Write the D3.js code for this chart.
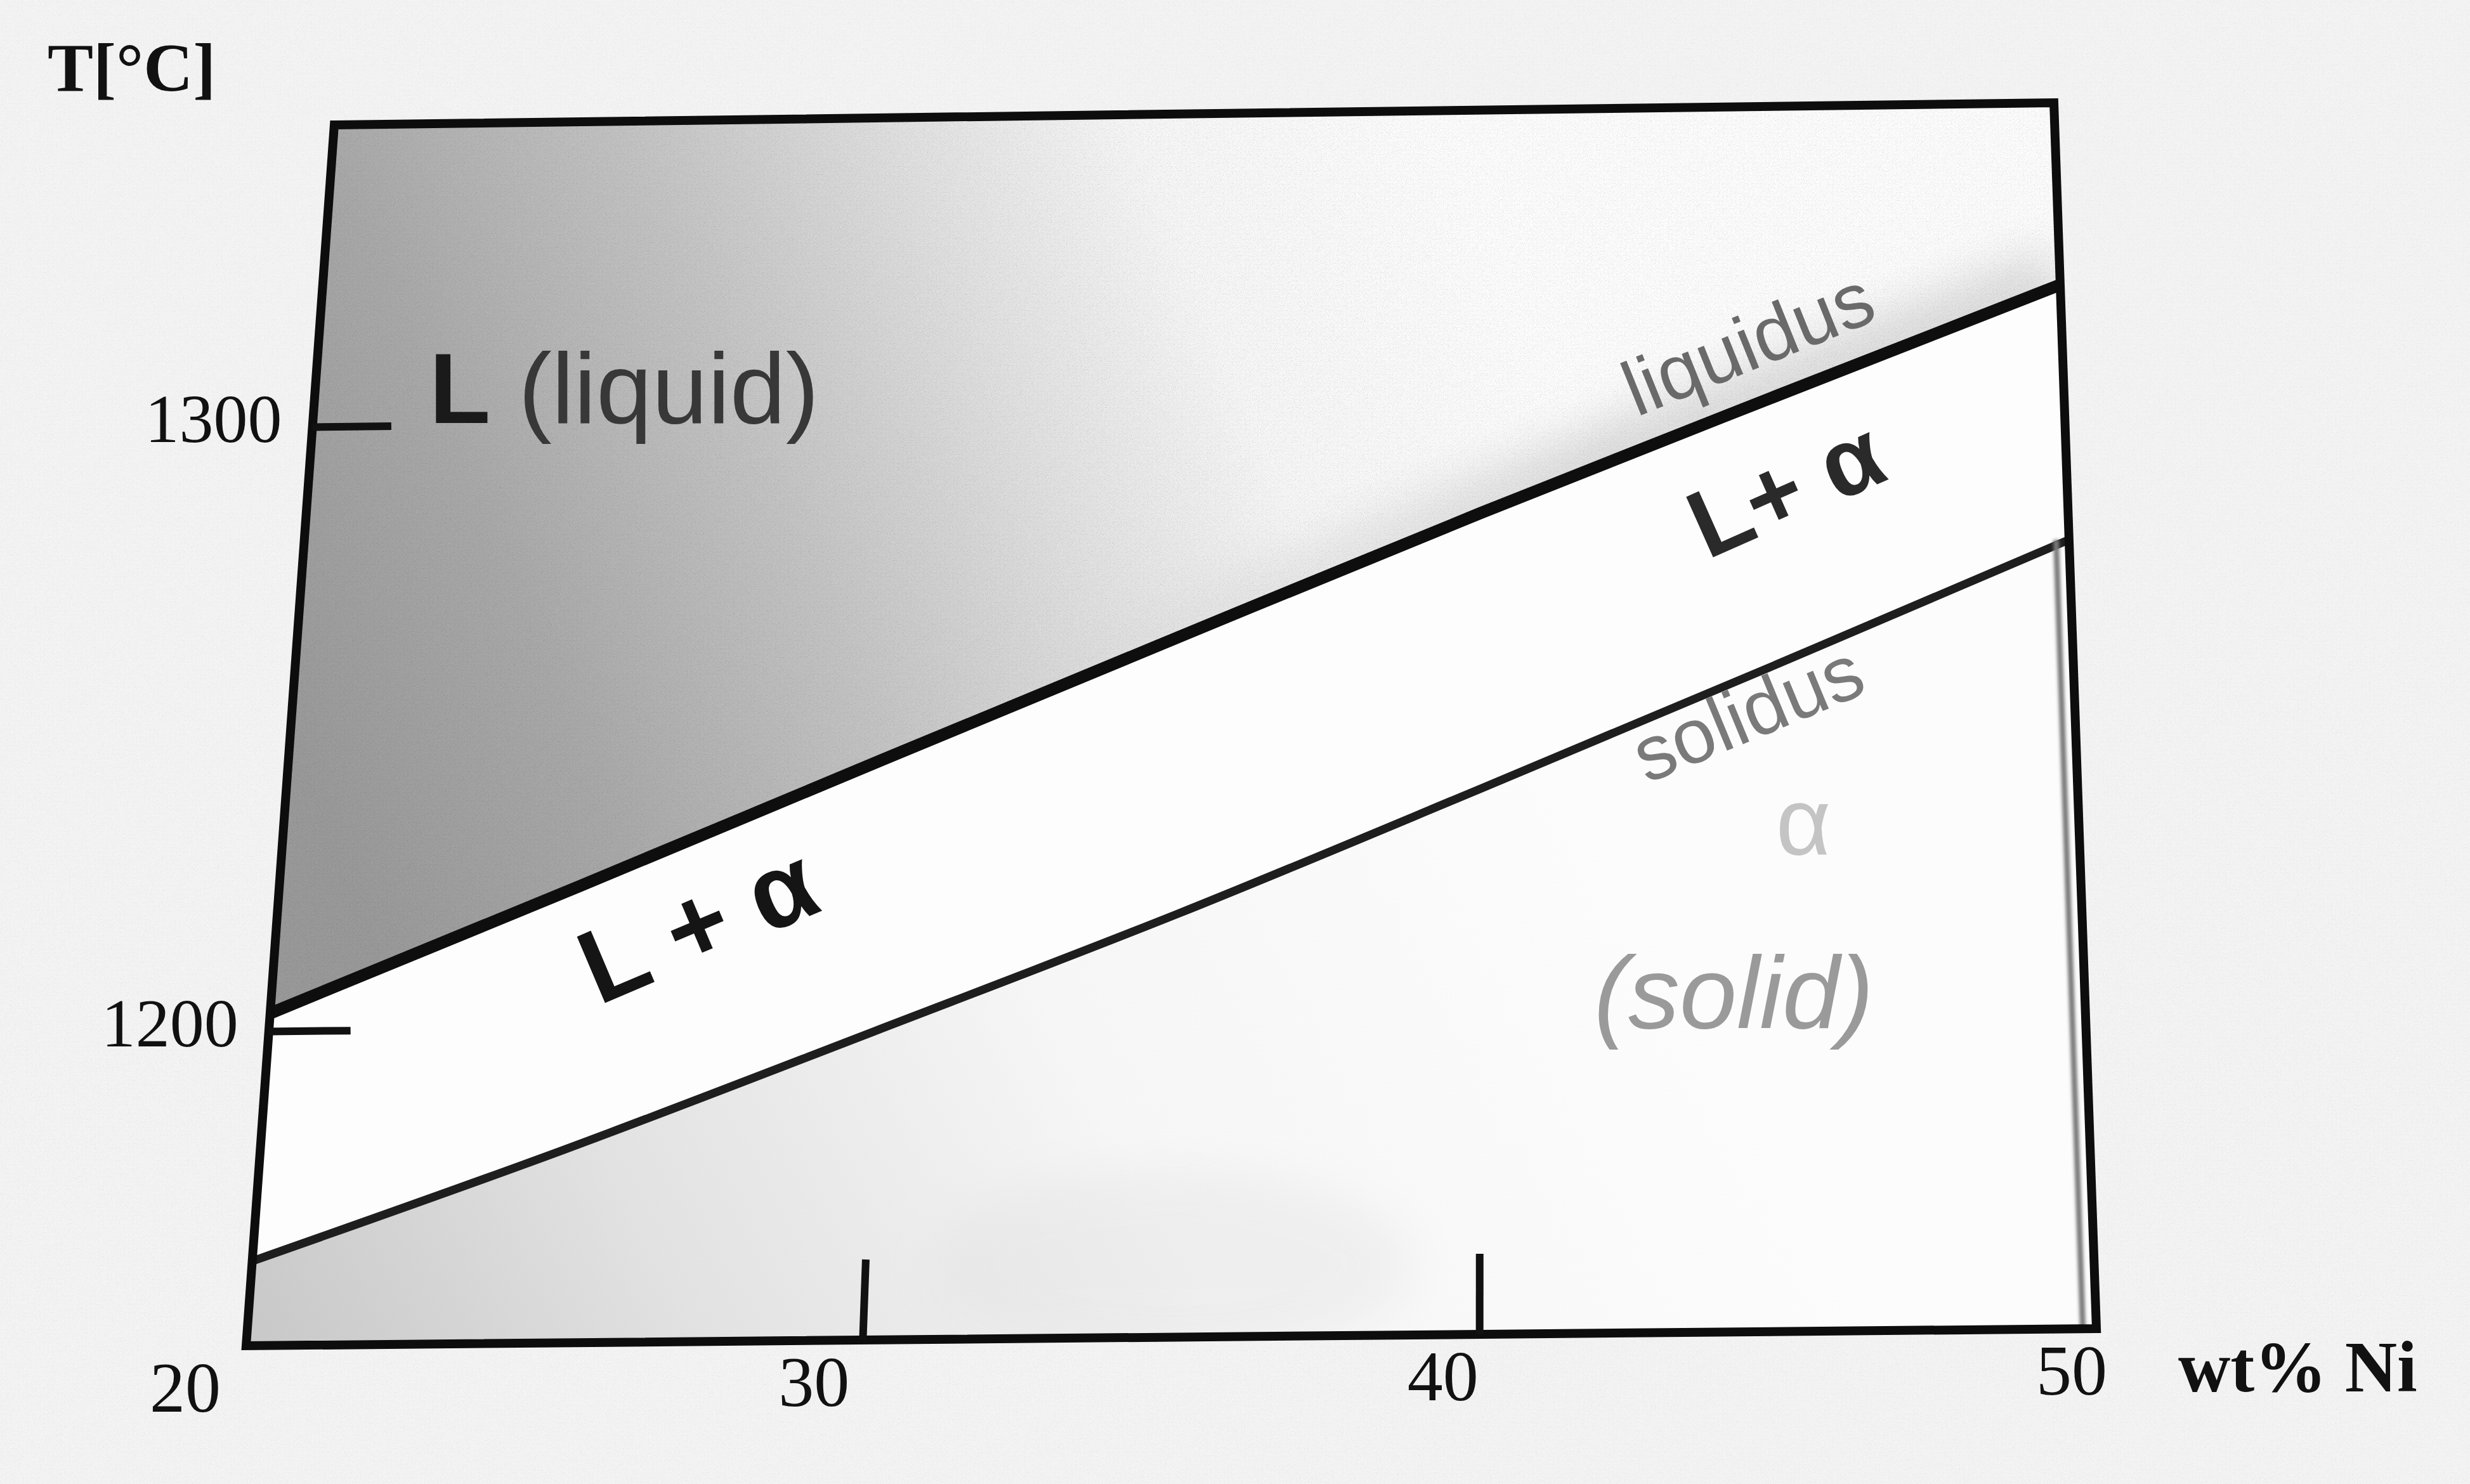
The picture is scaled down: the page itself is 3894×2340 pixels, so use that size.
<!DOCTYPE html>
<html>
<head>
<meta charset="utf-8">
<script src="https://cdn.jsdelivr.net/npm/d3@7"></script>
<style>
  html, body { margin: 0; padding: 0; background: #f4f4f4; }
  svg { display: block; }
  text { white-space: pre; }
</style>
</head>
<body>
<svg id="chart"></svg>
<script>
// Cu-Ni phase diagram (detail)
const wtNi = [20, 25, 30, 35, 40, 45, 50]
const liquidusT = [1203, 1223.5, 1244, 1264, 1283.5, 1302, 1320]
const solidusT = [1162, 1180, 1199, 1218, 1238, 1258, 1278]
const xTickMarks = [30, 40]
const xTickLabels = [20, 30, 40, 50]
const yTicks = [1200, 1300]
const xDomain = [20, 50]
const yDomain = [1148, 1350]

const width = 3894
const height = 2340

// the page was photographed at an angle, so the plot frame is a skewed quad
const corner = {
  tl: [527, 197],
  tr: [3238, 162],
  bl: [388, 2122],
  br: [3305, 2095]
}

const x = d3.scaleLinear().domain(xDomain).range([0, 1])
const y = d3.scaleLinear().domain(yDomain).range([1, 0])

function proj (wt, t) {
  let u = x(wt)
  let v = y(t)
  let px = (1 - u) * (1 - v) * corner.tl[0] + u * (1 - v) * corner.tr[0] +
    (1 - u) * v * corner.bl[0] + u * v * corner.br[0]
  let py = (1 - u) * (1 - v) * corner.tl[1] + u * (1 - v) * corner.tr[1] +
    (1 - u) * v * corner.bl[1] + u * v * corner.br[1]
  return [px, py]
}

const svg = d3.select('#chart')
  .attr('width', width)
  .attr('height', height)
  .attr('viewBox', `0 0 ${width} ${height}`)

const defs = svg.append('defs')

// paper grain
let grain = defs.append('filter').attr('id', 'grain')
  .attr('x', 0).attr('y', 0).attr('width', '100%').attr('height', '100%')
grain.append('feTurbulence')
  .attr('type', 'fractalNoise').attr('baseFrequency', 0.85)
  .attr('numOctaves', 2).attr('seed', 7)
grain.append('feColorMatrix').attr('type', 'matrix')
  .attr('values', '0 0 0 0 0  0 0 0 0 0  0 0 0 0 0  2.6 0 0 0 -1.25')

let soft = defs.append('filter').attr('id', 'soft')
  .attr('x', '-20%').attr('y', '-20%').attr('width', '140%').attr('height', '140%')
soft.append('feGaussianBlur').attr('stdDeviation', 35)

let soft2 = defs.append('filter').attr('id', 'soft2')
  .attr('x', '-20%').attr('y', '-20%').attr('width', '140%').attr('height', '140%')
soft2.append('feGaussianBlur').attr('stdDeviation', 2.5)

function gradient (id, from, to, stops) {
  let g = defs.append('linearGradient').attr('id', id)
    .attr('gradientUnits', 'userSpaceOnUse')
    .attr('x1', from[0]).attr('y1', from[1])
    .attr('x2', to[0]).attr('y2', to[1])
  stops.forEach(s => {
    g.append('stop').attr('offset', s[0]).attr('stop-color', s[1])
      .attr('stop-opacity', s[2] === undefined ? 1 : s[2])
  })
}

gradient('liquidFill', [450, 1150], [2350, 380], [
  [0, '#9a9a9a'], [0.2, '#a9a9a9'], [0.42, '#c4c4c4'], [0.62, '#e2e2e2'],
  [0.78, '#f7f7f7'], [1, '#fdfdfd']
])
gradient('solidFill', [400, 2120], [2400, 1050], [
  [0, '#c8c8c8'], [0.28, '#e2e2e2'], [0.6, '#f6f6f6'], [1, '#fcfcfc']
])
gradient('bandFade', [1500, 0], [2500, 0], [
  [0, '#d8d8d8', 0], [1, '#d8d8d8', 0.85]
])

const liquidusPts = wtNi.map((w, i) => proj(w, liquidusT[i]))
const solidusPts = wtNi.map((w, i) => proj(w, solidusT[i]))

let line = d3.line().curve(d3.curveMonotoneX)

let TL = proj(xDomain[0], yDomain[1])
let TR = proj(xDomain[1], yDomain[1])
let BR = proj(xDomain[1], yDomain[0])
let BL = proj(xDomain[0], yDomain[0])

let quadPath = `M${TL}L${TR}L${BR}L${BL}Z`
let liquidPath = line(liquidusPts) + `L${TR}L${TL}Z`
let aboveSolidPath = line(solidusPts) + `L${TR}L${TL}Z`

defs.append('clipPath').attr('id', 'liquidClip')
  .append('path').attr('d', liquidPath)
defs.append('clipPath').attr('id', 'quadClip')
  .append('path').attr('d', quadPath)

// paper background
svg.append('rect').attr('width', width).attr('height', height).attr('fill', '#f4f4f4')
svg.append('rect').attr('width', width).attr('height', height)
  .attr('filter', 'url(#grain)').attr('opacity', 0.07)

// phase regions
let regions = svg.append('g').attr('class', 'regions')

regions.append('path').attr('d', quadPath).attr('fill', 'url(#solidFill)')
regions.append('ellipse')
  .attr('cx', proj(35, 1150)[0]).attr('cy', proj(35, 1160)[1])
  .attr('rx', 380).attr('ry', 150)
  .attr('fill', '#dcdcdc').attr('opacity', 0.3)
  .attr('filter', 'url(#soft)')
  .attr('clip-path', 'url(#quadClip)')
regions.append('path').attr('d', aboveSolidPath).attr('fill', '#fdfdfd')
regions.append('path').attr('d', liquidPath).attr('fill', 'url(#liquidFill)')

let liquidShade = regions.append('g').attr('clip-path', 'url(#liquidClip)')
liquidShade.append('path')
  .attr('d', line(liquidusPts))
  .attr('fill', 'none')
  .attr('stroke', 'url(#bandFade)')
  .attr('stroke-width', 120)
  .attr('filter', 'url(#soft)')
liquidShade.append('rect').attr('width', width).attr('height', height)
  .attr('filter', 'url(#grain)').attr('opacity', 0.14)

// boundaries
svg.append('path')
  .attr('d', line(solidusPts))
  .attr('fill', 'none')
  .attr('stroke', '#1e1e1e')
  .attr('stroke-width', 13)

svg.append('path')
  .attr('d', line(liquidusPts))
  .attr('fill', 'none')
  .attr('stroke', '#0e0e0e')
  .attr('stroke-width', 19)

// shadow of the page edge next to the right frame line
let shadowTop = proj(49.78, solidusT[solidusT.length - 1])
let shadowBottom = proj(49.78, yDomain[0])
svg.append('line')
  .attr('x1', shadowTop[0]).attr('y1', shadowTop[1])
  .attr('x2', shadowBottom[0]).attr('y2', shadowBottom[1])
  .attr('stroke', '#7a7a7a')
  .attr('stroke-width', 9)
  .attr('filter', 'url(#soft2)')

// frame
svg.append('path')
  .attr('d', quadPath)
  .attr('fill', 'none')
  .attr('stroke', '#0d0d0d')
  .attr('stroke-width', 14)
  .attr('stroke-linejoin', 'miter')

// ticks
let ticks = svg.append('g').attr('class', 'ticks')
  .attr('stroke', '#111').attr('stroke-width', 12)

ticks.selectAll('line.y')
  .data(yTicks)
  .enter().append('line')
  .attr('class', 'y')
  .attr('x1', t => proj(xDomain[0], t)[0])
  .attr('y1', t => proj(xDomain[0], t)[1])
  .attr('x2', t => proj(xDomain[0] + 1.35, t)[0])
  .attr('y2', t => proj(xDomain[0] + 1.35, t)[1])

ticks.selectAll('line.x')
  .data(xTickMarks)
  .enter().append('line')
  .attr('class', 'x')
  .attr('x1', w => proj(w, yDomain[0])[0])
  .attr('y1', w => proj(w, yDomain[0])[1])
  .attr('x2', w => proj(w, yDomain[0] + 13.3)[0])
  .attr('y2', w => proj(w, yDomain[0] + 13.3)[1])

// tick labels
let serif = '"Liberation Serif", "Times New Roman", "DejaVu Serif", serif'
let sans = '"Liberation Sans", Arial, Helvetica, sans-serif'

svg.append('g')
  .selectAll('text')
  .data(yTicks)
  .enter().append('text')
  .attr('x', t => proj(xDomain[0], t)[0] - 48)
  .attr('y', t => proj(xDomain[0], t)[1] + 24)
  .attr('text-anchor', 'end')
  .attr('font-family', serif)
  .attr('font-size', 108)
  .attr('fill', '#111')
  .text(t => t)

svg.append('g')
  .selectAll('text')
  .data(xTickLabels)
  .enter().append('text')
  .attr('x', w => proj(w, yDomain[0])[0] - 96 + (w - 20) * 1.9)
  .attr('y', w => proj(w, yDomain[0])[1] + 104)
  .attr('text-anchor', 'middle')
  .attr('font-family', serif)
  .attr('font-size', 112)
  .attr('fill', '#111')
  .text(w => w)

// axis titles
svg.append('text')
  .attr('x', 75).attr('y', 143)
  .attr('font-family', serif).attr('font-weight', 'bold')
  .attr('font-size', 108).attr('fill', '#111')
  .text('T[°C]')

svg.append('text')
  .attr('x', 3434).attr('y', 2194)
  .attr('font-family', serif).attr('font-weight', 'bold')
  .attr('font-size', 114).attr('fill', '#111')
  .text('wt% Ni')

// phase labels
let liquidLabel = svg.append('text')
  .attr('x', proj(22, 1300)[0])
  .attr('y', proj(22, 1300)[1] - 4)
  .attr('font-family', sans)
  .attr('font-size', 158)
liquidLabel.append('tspan').attr('font-weight', 'bold').attr('fill', '#1a1a1a').text('L')
liquidLabel.append('tspan').attr('fill', '#383838').text(' (liquid)')

function rotatedLabel (wt, t, angle, txt, opts) {
  let p = proj(wt, t)
  return svg.append('text')
    .attr('transform', `translate(${p[0]},${p[1]}) rotate(${angle})`)
    .attr('text-anchor', 'middle')
    .attr('dominant-baseline', 'central')
    .attr('font-family', sans)
    .attr('font-size', opts.size)
    .attr('font-weight', opts.weight || 'normal')
    .attr('font-style', opts.style || 'normal')
    .attr('fill', opts.color)
    .text(txt)
}

rotatedLabel(27, 1217, -23, 'L + α', { size: 165, weight: 'bold', color: '#151515' })
rotatedLabel(45.2, 1287, -24, 'L+ α', { size: 152, weight: 'bold', color: '#2a2a2a' })
rotatedLabel(44.6, 1311, -22, 'liquidus', { size: 122, color: '#6a6a6a' })
rotatedLabel(44.5, 1250, -22.5, 'solidus', { size: 122, color: '#7a7a7a' })
rotatedLabel(45.4, 1232, 0, 'α', { size: 150, color: '#c4c4c4' })
rotatedLabel(44.2, 1204, 0, '(solid)', { size: 162, style: 'italic', color: '#9a9a9a' })
</script>
</body>
</html>
